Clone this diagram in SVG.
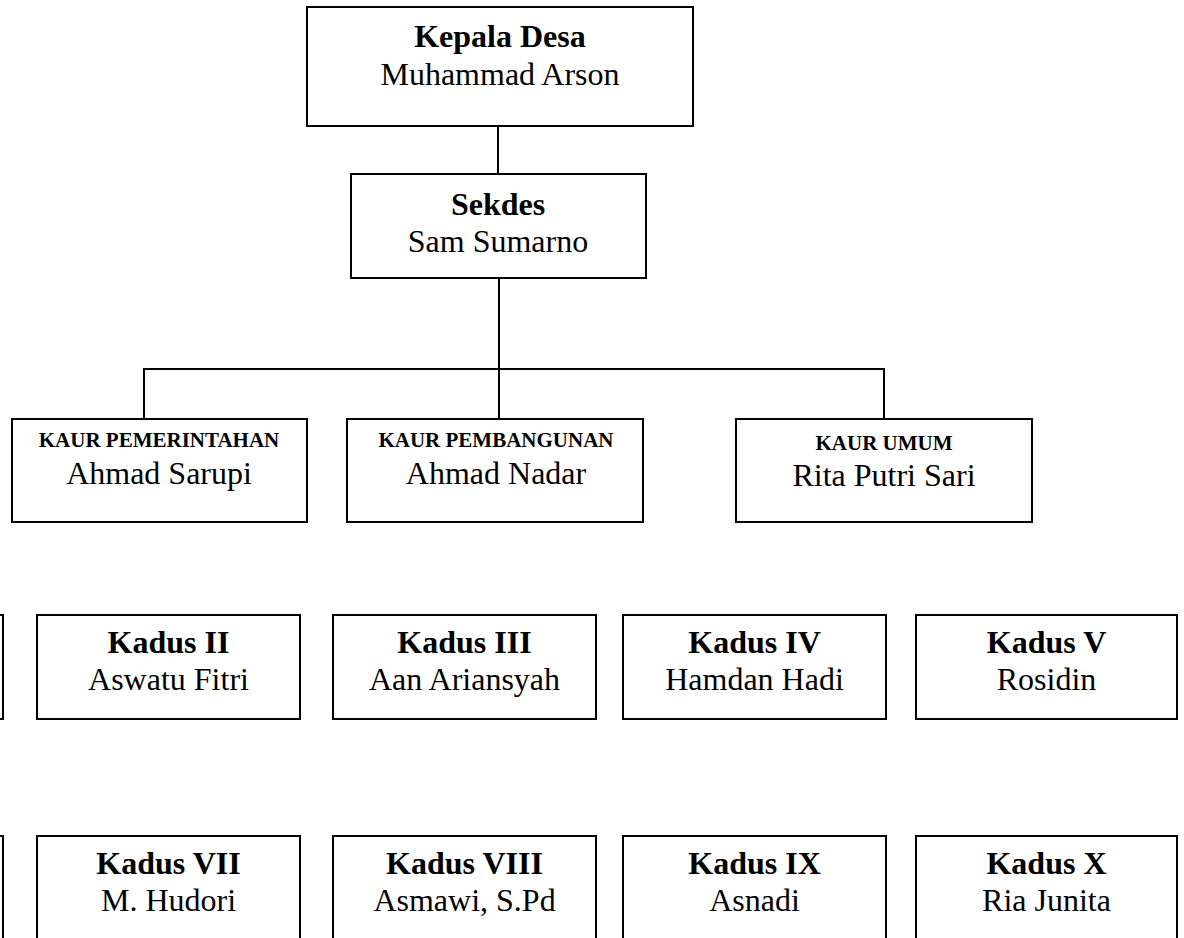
<svg xmlns="http://www.w3.org/2000/svg" width="1184" height="938" viewBox="0 0 1184 938">
<style>
.box{fill:#fff;stroke:#000;stroke-width:2}
.ln{fill:none;stroke:#000;stroke-width:2}
text{font-family:"Liberation Serif","Times New Roman",serif;fill:#000;text-anchor:middle}
.t{font-size:32px;font-weight:bold}
.n{font-size:32px}
.k{font-size:21px;font-weight:bold}
</style>
<rect width="1184" height="938" fill="#fff"/>
<g id="connectors">
<line class="ln" x1="498" y1="126" x2="498" y2="174"/>
<line class="ln" x1="499" y1="278" x2="499" y2="419"/>
<polyline class="ln" points="144,419 144,369 884,369 884,419"/>
</g>
<g id="kepala-desa">
<rect class="box" x="307" y="7" width="386" height="119"/>
<text class="t" x="500" y="47">Kepala Desa</text>
<text class="n" x="500" y="85">Muhammad Arson</text>
</g>
<g id="sekdes">
<rect class="box" x="351" y="174" width="295" height="104"/>
<text class="t" x="498" y="215">Sekdes</text>
<text class="n" x="498" y="252">Sam Sumarno</text>
</g>
<g id="kaur-pemerintahan">
<rect class="box" x="12" y="419" width="295" height="103"/>
<text class="k" x="159" y="447">KAUR PEMERINTAHAN</text>
<text class="n" x="159" y="484">Ahmad Sarupi</text>
</g>
<g id="kaur-pembangunan">
<rect class="box" x="347" y="419" width="296" height="103"/>
<text class="k" x="496" y="447">KAUR PEMBANGUNAN</text>
<text class="n" x="496" y="484">Ahmad Nadar</text>
</g>
<g id="kaur-umum">
<rect class="box" x="736" y="419" width="296" height="103"/>
<text class="k" x="884" y="450">KAUR UMUM</text>
<text class="n" x="884" y="486">Rita Putri Sari</text>
</g>
<g id="kadus-i">
<rect class="box" x="-100" y="615" width="103" height="104"/>
</g>
<g id="kadus-ii">
<rect class="box" x="37" y="615" width="263" height="104"/>
<text class="t" x="168.5" y="653">Kadus II</text>
<text class="n" x="168.5" y="690">Aswatu Fitri</text>
</g>
<g id="kadus-iii">
<rect class="box" x="333" y="615" width="263" height="104"/>
<text class="t" x="464.5" y="653">Kadus III</text>
<text class="n" x="464.5" y="690">Aan Ariansyah</text>
</g>
<g id="kadus-iv">
<rect class="box" x="623" y="615" width="263" height="104"/>
<text class="t" x="754.5" y="653">Kadus IV</text>
<text class="n" x="754.5" y="690">Hamdan Hadi</text>
</g>
<g id="kadus-v">
<rect class="box" x="916" y="615" width="261" height="104"/>
<text class="t" x="1046.5" y="653">Kadus V</text>
<text class="n" x="1046.5" y="690">Rosidin</text>
</g>
<g id="kadus-vi">
<rect class="box" x="-100" y="836" width="103" height="110"/>
</g>
<g id="kadus-vii">
<rect class="box" x="37" y="836" width="263" height="110"/>
<text class="t" x="168.5" y="874">Kadus VII</text>
<text class="n" x="168.5" y="911">M. Hudori</text>
</g>
<g id="kadus-viii">
<rect class="box" x="333" y="836" width="263" height="110"/>
<text class="t" x="464.5" y="874">Kadus VIII</text>
<text class="n" x="464.5" y="911">Asmawi, S.Pd</text>
</g>
<g id="kadus-ix">
<rect class="box" x="623" y="836" width="263" height="110"/>
<text class="t" x="754.5" y="874">Kadus IX</text>
<text class="n" x="754.5" y="911">Asnadi</text>
</g>
<g id="kadus-x">
<rect class="box" x="916" y="836" width="261" height="110"/>
<text class="t" x="1046.5" y="874">Kadus X</text>
<text class="n" x="1046.5" y="911">Ria Junita</text>
</g>
</svg>
